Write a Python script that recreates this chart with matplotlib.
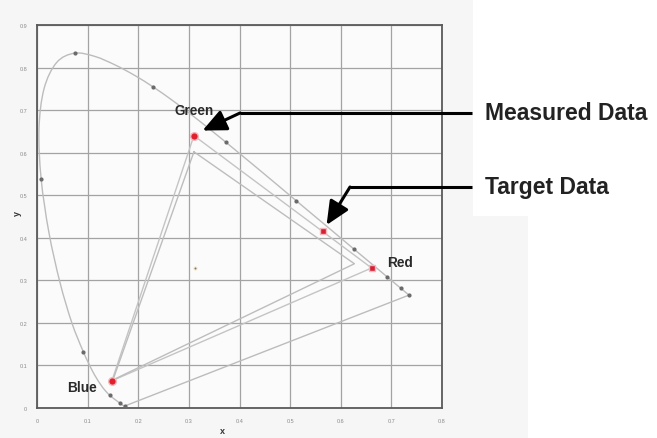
import matplotlib
matplotlib.use("Agg")
import matplotlib.pyplot as plt
from matplotlib.patches import Rectangle, PathPatch
from matplotlib.path import Path
from matplotlib.lines import Line2D

# ---- data -------------------------------------------------------------
# CIE 1931 spectral locus (wavelength nm, x, y)
wavelengths = [380, 390, 400, 410, 420, 425, 430, 435, 440, 445, 450, 455, 460,
               465, 470, 475, 480, 485, 490, 495, 500, 505, 510, 515, 520, 525,
               530, 535, 540, 545, 550, 555, 560, 565, 570, 575, 580, 585, 590,
               595, 600, 605, 610, 615, 620, 625, 630, 635, 640, 645, 650, 660,
               670, 680, 700]
locus_x = [0.1741, 0.1738, 0.1733, 0.1726, 0.1714, 0.1703, 0.1689, 0.1669, 0.1644,
           0.1611, 0.1566, 0.1510, 0.1440, 0.1355, 0.1241, 0.1096, 0.0913, 0.0687,
           0.0454, 0.0235, 0.0082, 0.0039, 0.0139, 0.0389, 0.0743, 0.1142, 0.1547,
           0.1929, 0.2296, 0.2658, 0.3016, 0.3373, 0.3731, 0.4087, 0.4441, 0.4788,
           0.5125, 0.5448, 0.5752, 0.6029, 0.6270, 0.6482, 0.6658, 0.6801, 0.6915,
           0.7006, 0.7079, 0.7140, 0.7190, 0.7230, 0.7260, 0.7300, 0.7320, 0.7334,
           0.7347]
locus_y = [0.0050, 0.0049, 0.0048, 0.0048, 0.0051, 0.0058, 0.0069, 0.0086, 0.0109,
           0.0138, 0.0177, 0.0227, 0.0297, 0.0399, 0.0578, 0.0868, 0.1327, 0.2007,
           0.2950, 0.4127, 0.5384, 0.6548, 0.7502, 0.8120, 0.8338, 0.8262, 0.8059,
           0.7816, 0.7543, 0.7243, 0.6923, 0.6589, 0.6245, 0.5896, 0.5547, 0.5202,
           0.4866, 0.4544, 0.4242, 0.3965, 0.3725, 0.3514, 0.3340, 0.3197, 0.3083,
           0.2993, 0.2920, 0.2859, 0.2809, 0.2770, 0.2740, 0.2700, 0.2680, 0.2666,
           0.2653]
marked_wavelengths = [380, 440, 460, 480, 500, 520, 540, 560, 580, 600, 620, 640, 700]

# measured gamut (green, red, blue)
measured_x = [0.31, 0.661, 0.148]
measured_y = [0.64, 0.329, 0.064]
# target gamut (green, red, blue)
target_x = [0.31, 0.627, 0.15]
target_y = [0.602, 0.339, 0.066]
# target marker
target_pt_x = [0.564]
target_pt_y = [0.417]
# white point
white_x = [0.3127]
white_y = [0.329]

x_ticks = [0, 0.1, 0.2, 0.3, 0.4, 0.5, 0.6, 0.7, 0.8]
x_tick_labels = ["0", "0.1", "0.2", "0.3", "0.4", "0.5", "0.6", "0.7", "0.8"]
y_ticks = [0, 0.1, 0.2, 0.3, 0.4, 0.5, 0.6, 0.7, 0.8, 0.9]
y_tick_labels = ["0", "0.1", "0.2", "0.3", "0.4", "0.5", "0.6", "0.7", "0.8", "0.9"]

vertex_labels = ["Green", "Red", "Blue"]

# ---- figure -----------------------------------------------------------
W, H = 657, 439
fig = plt.figure(figsize=(W / 100, H / 100), dpi=100, facecolor="white")
plt.rcParams["font.family"] = ["Liberation Sans", "DejaVu Sans"]


def fp(px, py):
    """figure pixel (origin top-left) -> figure fraction"""
    return (px / W, 1 - py / H)


# light grey scan background
fig.patches.append(Rectangle((0, 0), 528 / W, 1, transform=fig.transFigure,
                             facecolor="#f6f6f6", edgecolor="none", zorder=-10))
fig.patches.append(Rectangle(fp(473, 217), (W - 473) / W, 217 / H, transform=fig.transFigure,
                             facecolor="white", edgecolor="none", zorder=-9))

ax = fig.add_axes([37 / W, (H - 409) / H, (442 - 37) / W, (409 - 26) / H])
ax.set_facecolor("#fbfbfb")
ax.set_xlim(0, 0.8)
ax.set_ylim(0, 0.9)
ax.set_xticks(x_ticks)
ax.set_xticklabels(x_tick_labels)
ax.set_yticks(y_ticks)
ax.set_yticklabels(y_tick_labels)
ax.tick_params(length=0, labelsize=4, labelcolor="#8a8a8a", pad=7)
ax.grid(True, color="#a3a3a3", lw=0.9)
ax.set_axisbelow(True)
for s in ax.spines.values():
    s.set_color("#5a5a5a")
    s.set_linewidth(1.3)

# axis labels placed as in the scan
fig.text(*fp(222, 432), "x", fontsize=6.5, fontweight="bold", color="#333",
         ha="center", va="center")
fig.text(*fp(17, 214), "y", fontsize=6.5, fontweight="bold", color="#333",
         ha="center", va="center", rotation=90)

# spectral locus drawn as a smooth curve through the listed points
pts = list(zip(locus_x, locus_y))
verts = [pts[0]]
codes = [Path.MOVETO]
n = len(pts)
for i in range(n - 1):
    p0 = pts[i - 1] if i > 0 else pts[i]
    p1 = pts[i]
    p2 = pts[i + 1]
    p3 = pts[i + 2] if i + 2 < n else pts[i + 1]
    c1 = (p1[0] + (p2[0] - p0[0]) / 6, p1[1] + (p2[1] - p0[1]) / 6)
    c2 = (p2[0] - (p3[0] - p1[0]) / 6, p2[1] - (p3[1] - p1[1]) / 6)
    verts += [c1, c2, p2]
    codes += [Path.CURVE4] * 3
verts.append(pts[0])
codes.append(Path.LINETO)
ax.add_patch(PathPatch(Path(verts, codes), facecolor="none", edgecolor="#bcbcbc",
                       lw=1.0, zorder=2))

mx = [locus_x[wavelengths.index(w)] for w in marked_wavelengths]
my = [locus_y[wavelengths.index(w)] for w in marked_wavelengths]
ax.plot(mx, my, "o", ms=2.0, color="#6a6a6a", zorder=3, ls="none")

# gamut triangles
ax.plot(measured_x + [measured_x[0]], measured_y + [measured_y[0]],
        color="#c4c4c4", lw=1.0, zorder=2)
ax.plot(target_x + [target_x[0]], target_y + [target_y[0]],
        color="#bdbdbd", lw=1.0, zorder=2)

# measured markers
ax.plot(measured_x[0], measured_y[0], "o", ms=5.5, color="#e0202c",
        mec="#f2b8bc", mew=1.0, zorder=5)
ax.plot(measured_x[1], measured_y[1], "s", ms=5.0, color="#d42036",
        mec="#f2b8bc", mew=1.0, zorder=5)
ax.plot(measured_x[2], measured_y[2], "o", ms=5.5, color="#e0202c",
        mec="#f2b8bc", mew=1.0, zorder=5)
ax.plot(target_pt_x, target_pt_y, "s", ms=5.0, color="#d42036",
        mec="#f2b8bc", mew=1.0, zorder=5)

# white point
ax.plot(white_x, white_y, "o", ms=2.2, color="#777", mec="#f3e6c0", mew=0.8, zorder=4)

# vertex labels
label_offsets = [(0.0, 0.061), (0.057, 0.014), (-0.059, -0.014)]
for lab, x0, y0, (dx, dy) in zip(vertex_labels, measured_x, measured_y, label_offsets):
    ax.text(x0 + dx, y0 + dy, lab, fontsize=9.8, fontweight="bold", color="#2a2a2a",
            ha="center", va="center", zorder=6)

# callouts
callouts = [
    ("Measured Data", 114, 240, (0.327, 0.652)),
    ("Target Data", 188, 350, (0.572, 0.43)),
]
for text, py, corner_x, tip in callouts:
    fig.lines.append(Line2D([472 / W, corner_x / W], [1 - py / H, 1 - py / H],
                            transform=fig.transFigure, color="black", lw=2.2,
                            solid_capstyle="butt", zorder=10))
    ax.annotate("", xy=tip, xycoords="data", xytext=fp(corner_x, py),
                textcoords="figure fraction", annotation_clip=False,
                arrowprops=dict(arrowstyle="-|>,head_length=1.1,head_width=0.5",
                                color="black", lw=2.2, mutation_scale=13,
                                shrinkA=0, shrinkB=0), zorder=10)
    fig.text(485 / W, 1 - py / H, text, fontsize=16.5, fontweight="bold",
             color="#222", ha="left", va="center")

fig.savefig("out.png", dpi=100, facecolor=fig.get_facecolor())
